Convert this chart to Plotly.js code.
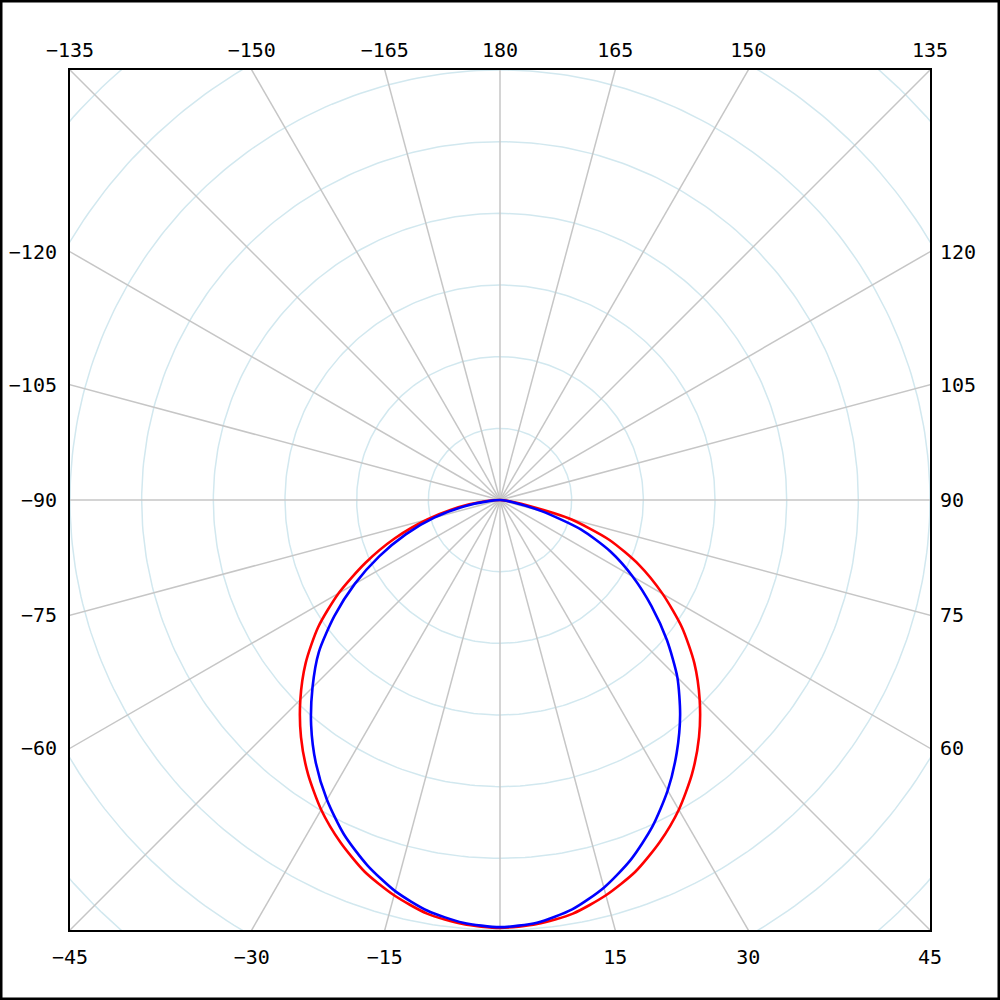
<!DOCTYPE html>
<html>
<head>
<meta charset="utf-8">
<script src="https://cdn.plot.ly/plotly-3.0.1.min.js"></script>
<style>
  html, body { margin: 0; padding: 0; background: #fff; }
  #chart { width: 1000px; height: 1000px; }
</style>
</head>
<body>
<div id="chart"></div>
<script>
// Polar angles (degrees, 0 = straight down, positive to the right)
const angles = [-90,-85,-80,-75,-70,-65,-60,-55,-50,-45,-40,-35,-30,-25,-20,-15,-10,-5,0,
                5,10,15,20,25,30,35,40,45,50,55,60,65,70,75,80,85,90];
// Intensity values (radial units, one ring = 100)
const redSeries  = [0,21,59,105,156,207,260,310,354,394,432,467,499,527,552,571,586,594,597,
                    594,586,571,552,527,499,467,432,394,354,310,262,214,162,100,30,6,0];
const blueSeries = [0,14,50,95,140,186,234,282,330,370,410,448,483,515,542,565,582,592,596,
                    592,580,560,534,503,468,430,391,350,304,258,214,170,120,60,18,4,0];

// Edge labels (angles where radial lines meet the frame)
const bottomLabels = [-45,-30,-15,15,30,45];
const topLabels    = [-135,-150,-165,180,165,150,135];
const leftLabels   = [-120,-105,-90,-75,-60];
const rightLabels  = [120,105,90,75,60];

const ringStep = 100;
const ringCount = 8;
const R = 600;           // half-range of the square frame
const spokeStep = 15;

const rad = d => d * Math.PI / 180;
const lbl = v => String(v).replace('-', '\u2212');

function toXY(ang, vals) {
  return {
    x: vals.map((v, i) => v * Math.sin(rad(ang[i]))),
    y: vals.map((v, i) => -v * Math.cos(rad(ang[i])))
  };
}

// grid rings
const ringX = [], ringY = [];
for (let k = 1; k <= ringCount; k++) {
  for (let t = 0; t <= 360; t += 1) {
    ringX.push(k * ringStep * Math.sin(rad(t)));
    ringY.push(-k * ringStep * Math.cos(rad(t)));
  }
  ringX.push(null); ringY.push(null);
}
// grid spokes
const spokeX = [], spokeY = [];
for (let a = 0; a < 360; a += spokeStep) {
  spokeX.push(0, 1000 * Math.sin(rad(a)), null);
  spokeY.push(0, -1000 * Math.cos(rad(a)), null);
}

const redXY = toXY(angles, redSeries);
const blueXY = toXY(angles, blueSeries);

const traces = [
  { x: ringX, y: ringY, mode: 'lines', line: { color: '#d2e8ef', width: 1.5 }, hoverinfo: 'skip' },
  { x: spokeX, y: spokeY, mode: 'lines', line: { color: '#c6c6c6', width: 1.5 }, hoverinfo: 'skip' },
  { x: redXY.x, y: redXY.y, mode: 'lines', line: { color: '#ff0000', width: 2.6, shape: 'spline', smoothing: 0.7 }, name: 'red' },
  { x: blueXY.x, y: blueXY.y, mode: 'lines', line: { color: '#0000ff', width: 2.6, shape: 'spline', smoothing: 0.7 }, name: 'blue' },
  // empty trace so the top and right label axes are drawn
  { x: [], y: [], xaxis: 'x2', yaxis: 'y2', mode: 'lines', hoverinfo: 'skip' }
];

const tickFont = { family: 'DejaVu Sans Mono, monospace', size: 20, color: '#000' };
const baseAxis = {
  range: [-R, R], showgrid: false, zeroline: false, showline: true,
  linecolor: '#000', linewidth: 2, ticks: '', tickfont: tickFont, fixedrange: true,
  tickmode: 'array'
};

const layout = {
  width: 1000, height: 1000,
  margin: { l: 70, r: 70, t: 70, b: 70, pad: 0 },
  paper_bgcolor: '#fff', plot_bgcolor: '#fff',
  showlegend: false, hovermode: false,
  xaxis: Object.assign({}, baseAxis, {
    tickvals: bottomLabels.map(a => R * Math.tan(rad(a))),
    ticktext: bottomLabels.map(lbl), ticklabelstandoff: 8
  }),
  xaxis2: Object.assign({}, baseAxis, {
    overlaying: 'x', side: 'top', anchor: 'y2',
    tickvals: topLabels.map(a => -R * Math.tan(rad(a))),
    ticktext: topLabels.map(lbl), ticklabelstandoff: 3
  }),
  yaxis: Object.assign({}, baseAxis, {
    tickvals: leftLabels.map(a => R / Math.tan(rad(a))),
    ticktext: leftLabels.map(lbl), ticklabelstandoff: 7
  }),
  yaxis2: Object.assign({}, baseAxis, {
    overlaying: 'y', side: 'right', anchor: 'x2',
    tickvals: rightLabels.map(a => -R / Math.tan(rad(a))),
    ticktext: rightLabels.map(lbl), ticklabelstandoff: 4
  }),
  shapes: [{
    type: 'rect', xref: 'paper', yref: 'paper',
    x0: -70 / 860, x1: 1 + 70 / 860, y0: -70 / 860, y1: 1 + 70 / 860,
    line: { color: '#000', width: 5 }, fillcolor: 'rgba(0,0,0,0)', layer: 'above'
  }]
};

Plotly.newPlot('chart', traces, layout, { staticPlot: true, displayModeBar: false });
</script>
</body>
</html>
